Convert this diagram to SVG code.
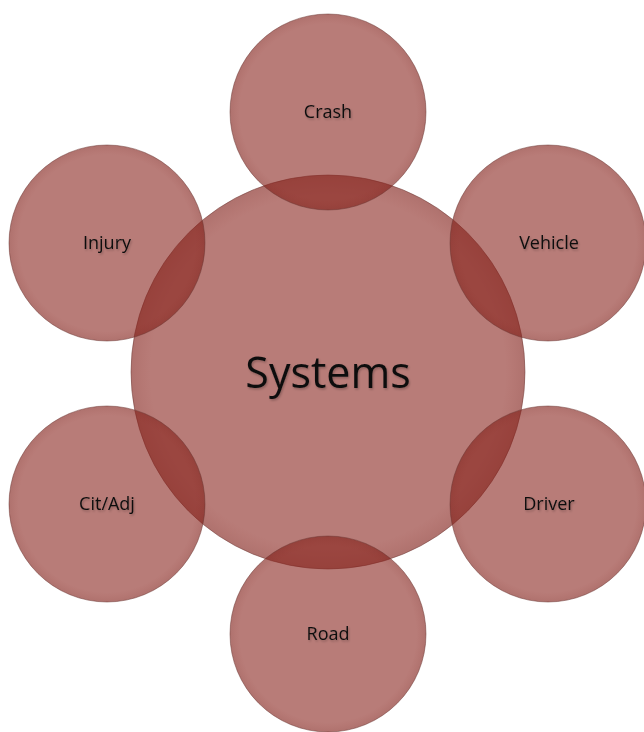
<svg xmlns="http://www.w3.org/2000/svg" width="644" height="732" viewBox="0 0 644 732">
<defs>
  <radialGradient id="shade" cx="0.5" cy="0.5" r="0.5">
    <stop offset="0" stop-color="#8a1f18" stop-opacity="0"/>
    <stop offset="0.9" stop-color="#8a1f18" stop-opacity="0"/>
    <stop offset="1" stop-color="#5a1410" stop-opacity="0.1"/>
  </radialGradient>
  <filter id="tshadow" x="-20%" y="-30%" width="140%" height="160%">
    <feDropShadow dx="1" dy="1.5" stdDeviation="1.2" flood-color="#000" flood-opacity="0.25"/>
  </filter>
</defs>
<style>
  .c { fill: #86201a; fill-opacity: 0.59; stroke: #6e3a36; stroke-opacity: 0.5; stroke-width: 1; }
  .s { fill: url(#shade); stroke: none; }
  .t { font-family: "Open Sans", "Liberation Sans", sans-serif; font-size: 18px; fill: #111; text-anchor: middle; filter: url(#tshadow); }
  .big { font-size: 43px; }
</style>
<rect width="644" height="732" fill="#ffffff"/>
<g id="systems">
  <circle class="c" cx="328" cy="372" r="197"/>
  <circle class="s" cx="328" cy="372" r="197"/>
</g>
<g id="crash">
  <circle class="c" cx="328" cy="112" r="98"/>
  <circle class="s" cx="328" cy="112" r="98"/>
</g>
<g id="vehicle">
  <circle class="c" cx="548" cy="243" r="98"/>
  <circle class="s" cx="548" cy="243" r="98"/>
</g>
<g id="driver">
  <circle class="c" cx="548" cy="504" r="98"/>
  <circle class="s" cx="548" cy="504" r="98"/>
</g>
<g id="road">
  <circle class="c" cx="328" cy="634" r="98"/>
  <circle class="s" cx="328" cy="634" r="98"/>
</g>
<g id="citadj">
  <circle class="c" cx="107" cy="504" r="98"/>
  <circle class="s" cx="107" cy="504" r="98"/>
</g>
<g id="injury">
  <circle class="c" cx="107" cy="243" r="98"/>
  <circle class="s" cx="107" cy="243" r="98"/>
</g>
<g id="labels">
  <text class="t big" x="328" y="388">Systems</text>
  <text class="t" x="328" y="118">Crash</text>
  <text class="t" x="549" y="249">Vehicle</text>
  <text class="t" x="549" y="510">Driver</text>
  <text class="t" x="328" y="640">Road</text>
  <text class="t" x="107" y="510">Cit/Adj</text>
  <text class="t" x="107" y="249">Injury</text>
</g>
</svg>
